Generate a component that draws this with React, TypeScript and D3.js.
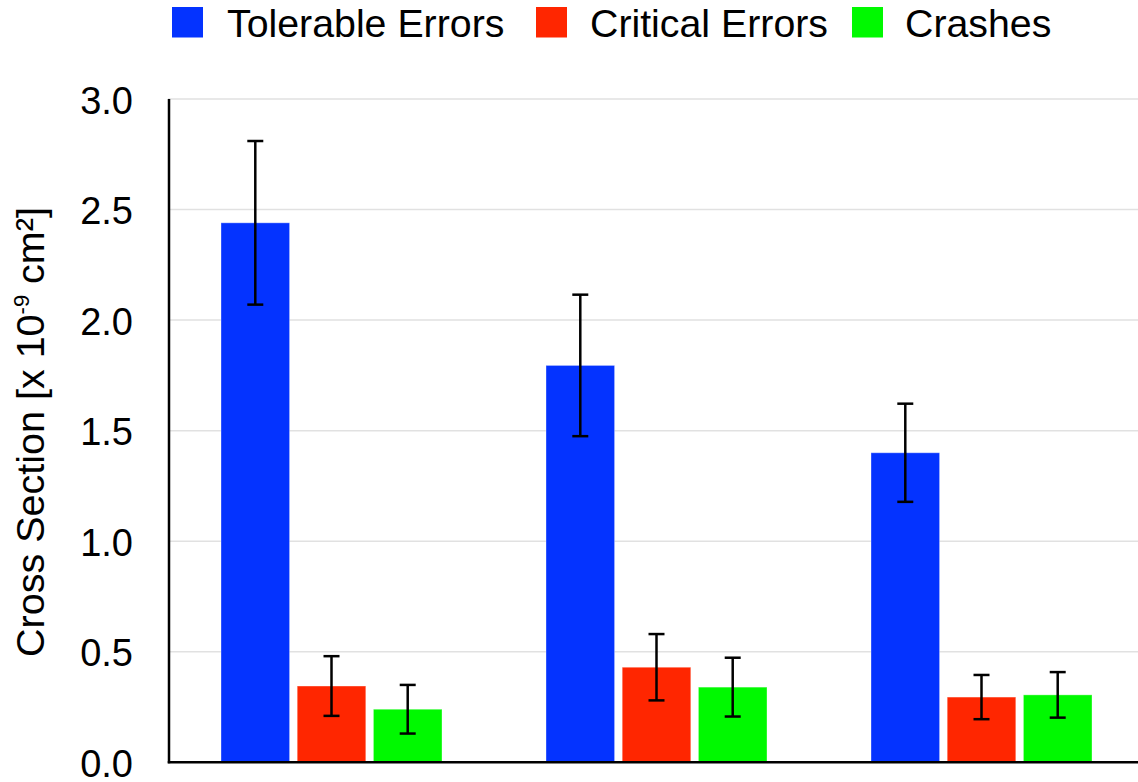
import React from "react";
import * as d3 from "d3";

// Test configurations (no axis labels are shown for these)
const configurations = ["Config A", "Config B", "Config C"];
const seriesNames = ["Tolerable Errors", "Critical Errors", "Crashes"];
const seriesColors = ["#0433FF", "#FF2600", "#00F900"];

// Cross-section values (x 10^-9 cm²) per configuration, one array per series
const tolerableValues = [2.44, 1.795, 1.40];
const criticalValues = [0.345, 0.43, 0.295];
const crashValues = [0.24, 0.34, 0.305];

// Symmetric error margins for each value
const tolerableErrors = [0.37, 0.32, 0.222];
const criticalErrors = [0.135, 0.15, 0.10];
const crashErrors = [0.11, 0.133, 0.103];

const yTicks = [0, 0.5, 1.0, 1.5, 2.0, 2.5, 3.0];

const WIDTH = 1138;
const HEIGHT = 782;
const FONT = "'Liberation Sans', Arial, Helvetica, sans-serif";

export default function App() {
  const values = [tolerableValues, criticalValues, crashValues];
  const errors = [tolerableErrors, criticalErrors, crashErrors];

  const plotLeft = 168;
  const plotRight = 1143;
  const plotTop = 99;
  const plotBottom = 762.3;

  const x0 = d3.scaleBand<string>().domain(configurations).range([plotLeft, plotRight]).padding(0);
  const x1 = d3.scaleBand<string>().domain(seriesNames).range([53, 274]).paddingInner(0.1).paddingOuter(0);
  const y = d3.scaleLinear().domain([0, 3]).range([plotBottom, plotTop]);

  const capHalf = 8;

  const legendItems = [
    { name: seriesNames[0], color: seriesColors[0], sx: 172, tx: 227 },
    { name: seriesNames[1], color: seriesColors[1], sx: 536, tx: 590 },
    { name: seriesNames[2], color: seriesColors[2], sx: 852, tx: 905 },
  ];

  return (
    <svg
      width={WIDTH}
      height={HEIGHT}
      style={{ position: "absolute", left: 0, top: 0, background: "#fff" }}
      fontFamily={FONT}
    >
      {/* Legend */}
      {legendItems.map((item) => (
        <g key={item.name}>
          <rect x={item.sx} y={7} width={31} height={30.5} fill={item.color} />
          <text x={item.tx} y={36.5} fontSize={39.3} fill="#000">
            {item.name}
          </text>
        </g>
      ))}

      {/* Horizontal gridlines */}
      {yTicks
        .filter((t) => t > 0)
        .map((t) => (
          <line
            key={`g${t}`}
            x1={plotLeft}
            x2={WIDTH}
            y1={y(t)}
            y2={y(t)}
            stroke="#e1e1e1"
            strokeWidth={1.5}
          />
        ))}

      {/* Y tick labels */}
      {yTicks.map((t) => (
        <text
          key={`t${t}`}
          x={133}
          y={y(t) + 14.5}
          textAnchor="end"
          fontSize={38}
          fill="#000"
        >
          {d3.format(".1f")(t)}
        </text>
      ))}

      {/* Y axis title */}
      <text
        transform={`translate(44, 432) rotate(-90)`}
        textAnchor="middle"
        fontSize={39.5}
        fill="#000"
      >
        Cross Section [x 10
        <tspan fontSize={22} dy={-15}>-9</tspan>
        <tspan dy={15}> cm²]</tspan>
      </text>

      {/* Bars */}
      {configurations.map((cfg, ci) => (
        <g key={cfg} transform={`translate(${x0(cfg)},0)`}>
          {seriesNames.map((s, si) => {
            const v = values[si][ci];
            const bx = x1(s)!;
            const bw = x1.bandwidth();
            return (
              <rect
                key={s}
                x={bx}
                y={y(v)}
                width={bw}
                height={plotBottom - y(v)}
                fill={seriesColors[si]}
                stroke="#ffffff"
                strokeOpacity={0.35}
                strokeWidth={1}
              />
            );
          })}
        </g>
      ))}

      {/* Error bars */}
      {configurations.map((cfg, ci) => (
        <g key={`e${cfg}`} transform={`translate(${x0(cfg)},0)`}>
          {seriesNames.map((s, si) => {
            const v = values[si][ci];
            const e = errors[si][ci];
            const cx = x1(s)! + x1.bandwidth() / 2;
            const yHi = y(v + e);
            const yLo = y(v - e);
            return (
              <g key={s} stroke="#000" strokeWidth={2.5}>
                <line x1={cx} x2={cx} y1={yHi} y2={yLo} />
                <line x1={cx - capHalf} x2={cx + capHalf} y1={yHi} y2={yHi} />
                <line x1={cx - capHalf} x2={cx + capHalf} y1={yLo} y2={yLo} />
              </g>
            );
          })}
        </g>
      ))}

      {/* Axes */}
      <line x1={169} x2={169} y1={plotTop} y2={plotBottom + 1} stroke="#000" strokeWidth={2.5} />
      <line x1={167.75} x2={WIDTH} y1={plotBottom} y2={plotBottom} stroke="#000" strokeWidth={2.5} />
    </svg>
  );
}
